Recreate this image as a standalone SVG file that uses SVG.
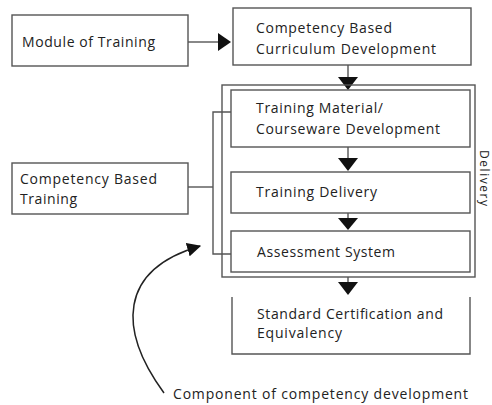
<svg xmlns="http://www.w3.org/2000/svg" width="492" height="405" viewBox="0 0 492 405">
<style>
.box{fill:none;stroke:#555;stroke-width:1.4}
.ln{fill:none;stroke:#555;stroke-width:1.4}
.t{font-family:"Open Sans","Liberation Sans",sans-serif;font-size:14px;fill:#222}
</style>
<defs>
<marker id="ahs" viewBox="0 0 12 12" refX="11" refY="6" markerWidth="14" markerHeight="14" markerUnits="userSpaceOnUse" orient="auto">
<path d="M0,0 L12,6 L0,12 Z" fill="#111"/>
</marker>
</defs>
<rect width="492" height="405" fill="#fff"/>
<g id="connectors">
<line class="ln" x1="188" y1="42" x2="219" y2="42"/>
<path d="M218,33 L231,42 L218,51 Z" fill="#111"/>
<line class="ln" x1="348" y1="65" x2="348" y2="78"/>
<path d="M338,77 L358,77 L348,90 Z" fill="#111"/>
<line class="ln" x1="348" y1="147" x2="348" y2="159"/>
<path d="M338,158 L358,158 L348,171 Z" fill="#111"/>
<line class="ln" x1="348" y1="213" x2="348" y2="219"/>
<path d="M338,218 L358,218 L348,230 Z" fill="#111"/>
<line class="ln" x1="348" y1="277" x2="348" y2="283"/>
<path d="M338,282 L358,282 L348,295 Z" fill="#111"/>
<polyline class="ln" points="188,187 213,187"/>
<polyline class="ln" points="231,112 213,112 213,254 231,254"/>
<path d="M164,393 C118,330 118,270 200,246" fill="none" stroke="#222" stroke-width="1.5" marker-end="url(#ahs)"/>
</g>
<g id="module-of-training">
<rect class="box" x="12" y="15" width="176" height="51"/>
<text class="t" x="22" y="47" textLength="133" lengthAdjust="spacing">Module of Training</text>
</g>
<g id="cbc-development">
<rect class="box" x="233" y="8" width="238" height="57"/>
<text class="t" x="256" y="33" textLength="136" lengthAdjust="spacing">Competency Based</text>
<text class="t" x="256" y="54" textLength="180" lengthAdjust="spacing">Curriculum Development</text>
</g>
<g id="delivery-group">
<rect class="box" x="222" y="85" width="253" height="192"/>
<text class="t" style="font-size:12px" transform="translate(480,150) rotate(90)" textLength="56" lengthAdjust="spacing">Delivery</text>
</g>
<g id="training-material">
<rect class="box" x="231" y="90" width="239" height="57"/>
<text class="t" x="256" y="113" textLength="127" lengthAdjust="spacing">Training Material/</text>
<text class="t" x="256" y="134" textLength="184" lengthAdjust="spacing">Courseware Development</text>
</g>
<g id="training-delivery">
<rect class="box" x="231" y="172" width="239" height="41"/>
<text class="t" x="256" y="197" textLength="121" lengthAdjust="spacing">Training Delivery</text>
</g>
<g id="assessment-system">
<rect class="box" x="231" y="231" width="239" height="41"/>
<text class="t" x="257" y="257" textLength="138" lengthAdjust="spacing">Assessment System</text>
</g>
<g id="standard-certification">
<polyline class="ln" points="232,297 232,354 470,354 470,297"/>
<text class="t" x="257" y="319" textLength="186" lengthAdjust="spacing">Standard Certification and</text>
<text class="t" x="257" y="338" textLength="85" lengthAdjust="spacing">Equivalency</text>
</g>
<g id="cb-training">
<rect class="box" x="12" y="163" width="176" height="51"/>
<text class="t" x="20" y="184" textLength="137" lengthAdjust="spacing">Competency Based</text>
<text class="t" x="20" y="204" textLength="57" lengthAdjust="spacing">Training</text>
</g>
<g id="component-label">
<text class="t" x="173" y="399" textLength="295" lengthAdjust="spacing">Component of competency development</text>
</g>
</svg>
